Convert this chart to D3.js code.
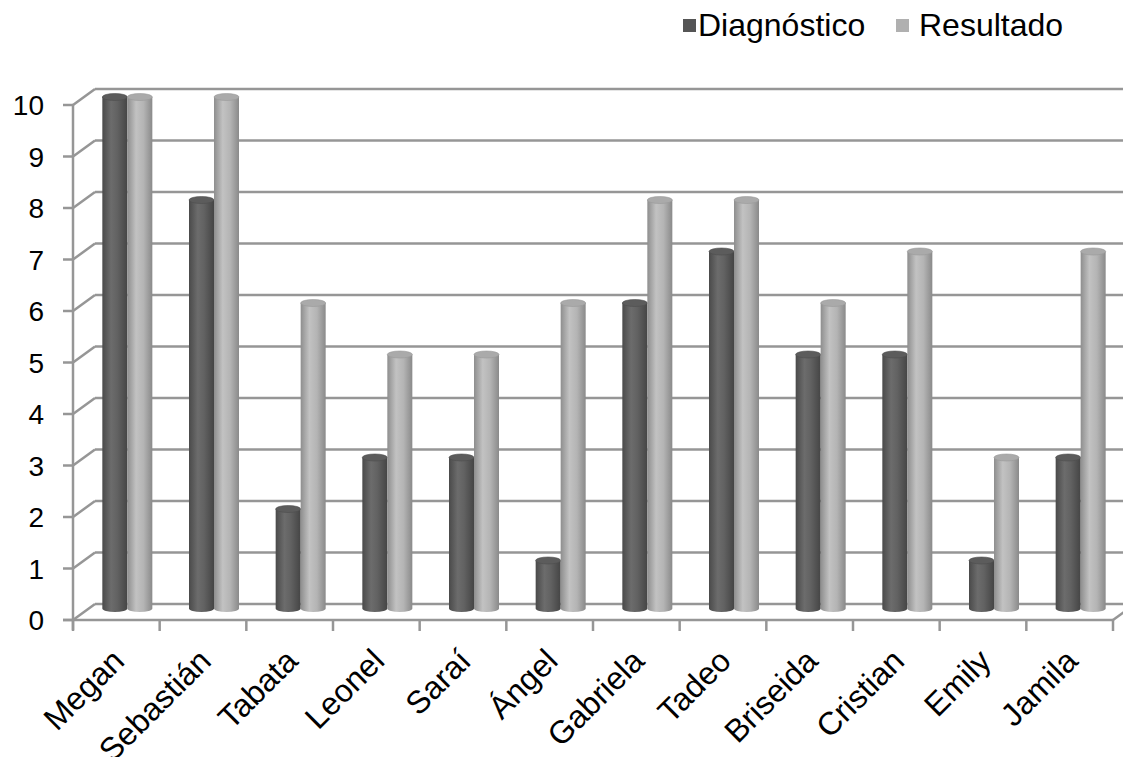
<!DOCTYPE html>
<html><head><meta charset="utf-8">
<script src="https://cdn.jsdelivr.net/npm/d3@7"></script>
<style>body{margin:0;background:#fff}svg{display:block;font-family:"Liberation Sans",Arial,sans-serif}</style>
</head><body>
<svg id="c" width="1123" height="757"></svg>
<script>
const categories = ["Megan","Sebastián","Tabata","Leonel","Saraí","Ángel","Gabriela","Tadeo","Briseida","Cristian","Emily","Jamila"];
const diagnostico = [10,8,2,3,3,1,6,7,5,5,1,3];
const resultado = [10,10,6,5,5,6,8,8,6,7,3,7];
const seriesNames = ["Diagnóstico","Resultado"];
const yTicks = [0,1,2,3,4,5,6,7,8,9,10];

const svg = d3.select("#c");
const x = d3.scaleBand().domain(categories).range([73,1113]);
const y = d3.scaleLinear().domain([0,10]).range([620,105]);
const dx = 22, dy = -16;
const grid = "#969696";

const defs = svg.append("defs");
function grad(id, stops){
  const g = defs.append("linearGradient").attr("id",id).attr("x1","0").attr("x2","1").attr("y1","0").attr("y2","0");
  stops.forEach(s=>g.append("stop").attr("offset",s[0]).attr("stop-color",s[1]));
}
grad("gDark",[[0,"#4a4a4a"],[0.35,"#6c6c6c"],[0.6,"#626262"],[1,"#454545"]]);
grad("gLight",[[0,"#8e8e8e"],[0.35,"#c2c2c2"],[0.65,"#b4b4b4"],[1,"#8a8a8a"]]);

// back wall gridlines
const g0 = svg.append("g");
yTicks.forEach(t=>{
  g0.append("line").attr("x1",73+dx).attr("x2",1123).attr("y1",y(t)+dy).attr("y2",y(t)+dy)
    .attr("stroke",grid).attr("stroke-width",2.5);
  g0.append("line").attr("x1",73).attr("x2",73+dx).attr("y1",y(t)).attr("y2",y(t)+dy)
    .attr("stroke",grid).attr("stroke-width",2.5);
});
g0.append("line").attr("x1",1113).attr("x2",1113+dx).attr("y1",620).attr("y2",620+dy).attr("stroke",grid).attr("stroke-width",2.5);

// bars
const series = [diagnostico, resultado];
const fills = ["url(#gDark)","url(#gLight)"];
const tops = ["#5c5c5c","#aaaaaa"];
const w = 25, ry = 3.5, rx = w/2;
const gb = svg.append("g");
categories.forEach((c,i)=>{
  const cx = x(c) + x.bandwidth()/2 + dx/2;
  [0,1].forEach(s=>{
    const v = series[s][i];
    const x0 = cx + (s===0 ? -w : 0), x1 = x0 + w;
    const yb = y(0) + dy/2 - ry, yt = y(v) + dy/2;
    gb.append("path")
      .attr("d",`M${x0},${yt} L${x0},${yb} A${rx},${ry} 0 0 0 ${x1},${yb} L${x1},${yt} Z`)
      .attr("fill",fills[s]);
    gb.append("ellipse").attr("cx",x0+rx).attr("cy",yt).attr("rx",rx).attr("ry",ry)
      .attr("fill",tops[s]).attr("stroke",s===0?"#4e4e4e":"#999").attr("stroke-width",0.6);
  });
});

// front axes
const ga = svg.append("g");
ga.append("line").attr("x1",73).attr("x2",73).attr("y1",105).attr("y2",630).attr("stroke",grid).attr("stroke-width",2.5);
ga.append("line").attr("x1",63).attr("x2",1113).attr("y1",620).attr("y2",620).attr("stroke",grid).attr("stroke-width",2.5);
yTicks.forEach(t=>{
  ga.append("line").attr("x1",63).attr("x2",73).attr("y1",y(t)).attr("y2",y(t)).attr("stroke",grid).attr("stroke-width",2.5);
  ga.append("text").attr("x",44).attr("y",y(t)).attr("dy","0.36em").attr("text-anchor","end")
    .attr("font-size",28).attr("fill","#000").text(t);
});
categories.concat(["_end"]).forEach((c,i)=>{
  const xx = 73 + i*x.bandwidth();
  ga.append("line").attr("x1",xx).attr("x2",xx).attr("y1",620).attr("y2",631).attr("stroke",grid).attr("stroke-width",2.5);
});
categories.forEach(c=>{
  const cx = x(c) + x.bandwidth()/2;
  ga.append("text").attr("transform",`translate(${cx-6},${647}) rotate(-45)`)
    .attr("text-anchor","end").attr("dy","0.7em").attr("font-size",32).attr("fill","#000").text(c);
});

// legend
const lg = svg.append("g");
const legX = [683, 896], legTX = [698, 919];
seriesNames.forEach((n,i)=>{
  lg.append("rect").attr("x",legX[i]).attr("y",19).attr("width",13).attr("height",13).attr("fill",i===0?"#555":"#b0b0b0");
  lg.append("text").attr("x",legTX[i]).attr("y",36).attr("font-size",32).attr("fill","#000").text(n);
});
</script>
</body></html>
